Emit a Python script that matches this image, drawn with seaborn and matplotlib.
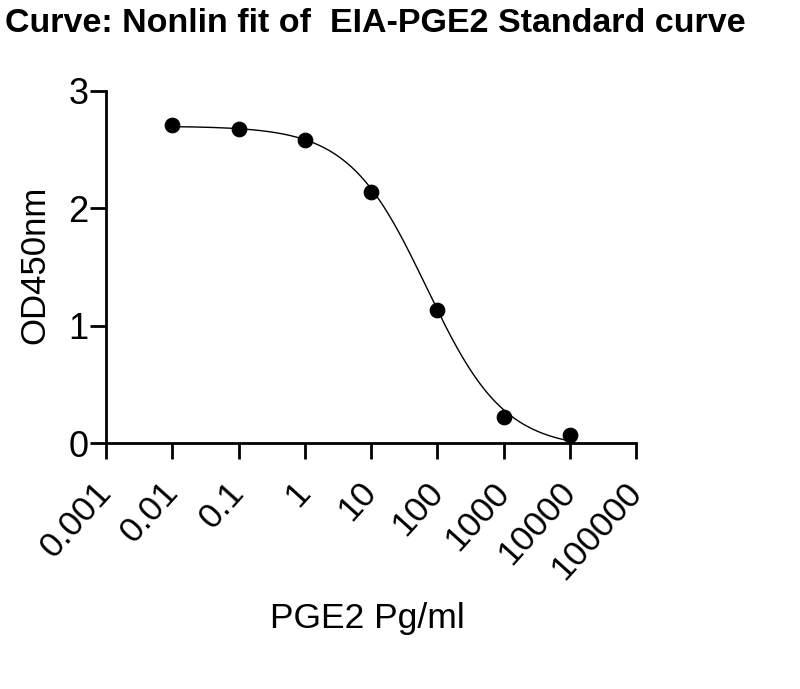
import numpy as np
import pandas as pd
import seaborn as sns
import matplotlib
matplotlib.use("Agg")
import matplotlib.pyplot as plt
from matplotlib.ticker import FixedLocator, FixedFormatter, NullLocator

# standards
conc = [0.01, 0.1, 1, 10, 100, 1000, 10000]
od450 = [2.71, 2.68, 2.58, 2.14, 1.13, 0.22, 0.07]

# 4PL fit parameters (estimated from the drawn curve)
top, bottom, ec50, hill = 2.70, -0.05, 69.0, 0.74

xticks = [0.001, 0.01, 0.1, 1, 10, 100, 1000, 10000, 100000]
xticklabels = ["0.001", "0.01", "0.1", "1", "10", "100", "1000", "10000", "100000"]

sns.set_style("ticks", {"axes.edgecolor": "black", "text.color": "black",
                        "axes.labelcolor": "black", "xtick.color": "black",
                        "ytick.color": "black"})
plt.rcParams['font.family'] = ['Liberation Sans', 'DejaVu Sans']

pts = pd.DataFrame({"conc": conc, "od": od450})
xfit = np.logspace(np.log10(conc[0]), np.log10(conc[-1]), 300)
fit = pd.DataFrame({"conc": xfit,
                    "od": bottom + (top - bottom) / (1 + (xfit / ec50) ** hill)})

fig = plt.figure(figsize=(8, 6.89), dpi=100)
ax = fig.add_axes([0.1325, 0.357, 0.6625, 0.511])

sns.lineplot(data=fit, x="conc", y="od", ax=ax, color="black", lw=1.0)
sns.scatterplot(data=pts, x="conc", y="od", ax=ax, color="black", s=110,
                edgecolor="black", zorder=3, clip_on=False)

ax.set_xscale("log")
ax.set_xlim(0.001, 100000)
ax.set_ylim(0, 3)
ax.xaxis.set_major_locator(FixedLocator(xticks))
ax.xaxis.set_major_formatter(FixedFormatter(xticklabels))
ax.xaxis.set_minor_locator(NullLocator())
ax.set_yticks([0, 1, 2, 3])

for side in ["top", "right"]:
    ax.spines[side].set_visible(False)
for side in ["left", "bottom"]:
    ax.spines[side].set_linewidth(2)

ax.tick_params(axis="both", width=2, length=11.5, color="black", labelcolor="black")
ax.tick_params(axis="y", labelsize=26, pad=1)
ax.tick_params(axis="x", labelsize=25.5, pad=20)
plt.setp(ax.get_xticklabels(), rotation=48, ha="right", va="center",
         rotation_mode="anchor")

ax.set_xlabel("PGE2 Pg/ml", fontsize=25.5, color="black")
ax.set_ylabel("OD450nm", fontsize=25, color="black")
ax.xaxis.set_label_coords(0.494, -0.452)
ax.yaxis.set_label_coords(-0.104, 0.507)

fig.text(0.006, 0.988, "Curve: Nonlin fit of  EIA-PGE2 Standard curve",
         fontsize=24.5, fontweight="bold", ha="left", va="top", color="black")

fig.savefig("out.png", dpi=100)
